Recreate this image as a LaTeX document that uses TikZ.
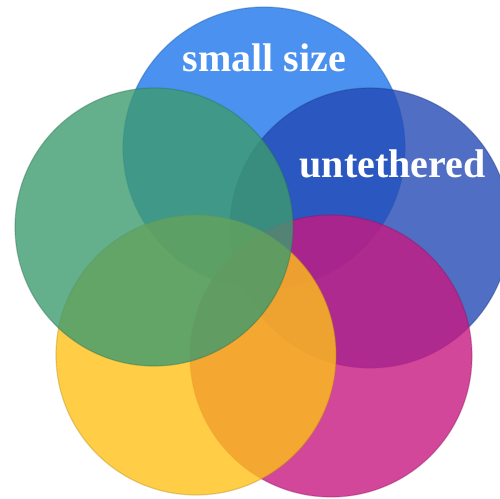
\documentclass[tikz,border=0pt]{standalone}
\usepackage{fontspec}
\setmainfont{Liberation Serif}
\definecolor{cblue}{RGB}{30,117,236}
\definecolor{cdblue}{RGB}{36,74,180}
\definecolor{cgreen}{RGB}{61,155,111}
\definecolor{cyellow}{RGB}{255,192,24}
\definecolor{cmagenta}{RGB}{200,25,130}
\tikzset{
  disc/.style={circle, inner sep=0pt, fill opacity=0.8, draw opacity=0.35, line width=1.2pt},
  lbl/.style={text=white, font=\fontsize{40}{40}\selectfont\bfseries, inner sep=0pt, anchor=base}
}
\begin{document}
\begin{tikzpicture}[x=1pt,y=-1pt]
\useasboundingbox (0,0) rectangle (500,498);
\clip (0,0) rectangle (500,498);
\node[disc, fill=cblue, draw=cblue!70!black, minimum size=282pt] (top) at (264,148) {};
\node[disc, fill=cdblue, draw=cdblue!70!black, minimum size=280pt] (right) at (370,228) {};
\node[disc, fill=cmagenta, draw=cmagenta!70!black, minimum size=282pt] (bright) at (331,356) {};
\node[disc, fill=cyellow, draw=cyellow!70!black, minimum size=280pt] (bleft) at (196,355) {};
\node[disc, fill=cgreen, draw=cgreen!70!black, minimum size=278pt] (left) at (154,227) {};
\node[lbl] (t1) at (264.5,71) {small size};
\node[lbl] (t2) at (392.5,177) {untethered};
\end{tikzpicture}
\end{document}
